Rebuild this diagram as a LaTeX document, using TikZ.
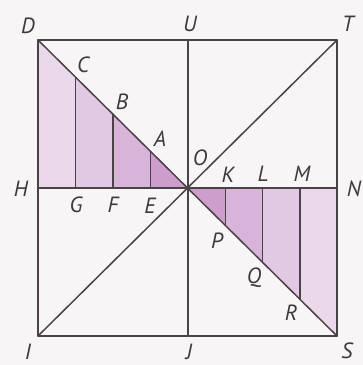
\documentclass[tikz,border=0pt]{standalone}
\usepackage{fontspec}
\setmainfont{PT Sans}
\usetikzlibrary{calc}
\definecolor{ln}{HTML}{4A4246}
\definecolor{bg}{HTML}{F7F5F6}
\definecolor{s1}{HTML}{E9D9EB}
\definecolor{s2}{HTML}{E2C9E3}
\definecolor{s3}{HTML}{D9B4D9}
\definecolor{s4}{HTML}{CD9DCC}
\tikzset{
  geo/.style={draw=ln, line width=1.5pt, line cap=round, line join=round},
  lbl/.style={font=\fontsize{22}{22}\selectfont\itshape, text=ln!85!black, inner sep=0pt},
}
\begin{document}
\begin{tikzpicture}[x=1pt,y=-1pt]
\fill[bg] (0,0) rectangle (363,365);
\useasboundingbox (0,0) rectangle (363,365);
% corner and mid points
\coordinate (D) at (38,40);
\coordinate (U) at (188,40);
\coordinate (T) at (337,40);
\coordinate (H) at (38,188);
\coordinate (O) at (188,188);
\coordinate (N) at (337,188);
\coordinate (I) at (38,336);
\coordinate (J) at (188,336);
\coordinate (S) at (337,336);
% left subdivisions
\coordinate (C) at ($(D)!0.25!(O)$);
\coordinate (B) at ($(D)!0.5!(O)$);
\coordinate (A) at ($(D)!0.75!(O)$);
\coordinate (G) at ($(H)!0.25!(O)$);
\coordinate (F) at ($(H)!0.5!(O)$);
\coordinate (E) at ($(H)!0.75!(O)$);
% right subdivisions
\coordinate (K) at ($(O)!0.25!(N)$);
\coordinate (L) at ($(O)!0.5!(N)$);
\coordinate (M) at ($(O)!0.75!(N)$);
\coordinate (P) at ($(O)!0.25!(S)$);
\coordinate (Q) at ($(O)!0.5!(S)$);
\coordinate (R) at ($(O)!0.75!(S)$);
% shaded strips
\fill[s1] (H) -- (D) -- (C) -- (G) -- cycle;
\fill[s2] (G) -- (C) -- (B) -- (F) -- cycle;
\fill[s3] (F) -- (B) -- (A) -- (E) -- cycle;
\fill[s4] (E) -- (A) -- (O) -- cycle;
\fill[s4] (O) -- (K) -- (P) -- cycle;
\fill[s3] (K) -- (L) -- (Q) -- (P) -- cycle;
\fill[s2] (L) -- (M) -- (R) -- (Q) -- cycle;
\fill[s1] (M) -- (N) -- (S) -- (R) -- cycle;
% lines
\draw[geo] (D) -- (T) -- (S) -- (I) -- cycle;
\draw[geo] (H) -- (N);
\draw[geo] (U) -- (J);
\draw[geo] (D) -- (S);
\draw[geo] (I) -- (T);
\draw[geo] (C) -- (G);
\draw[geo] (B) -- (F);
\draw[geo] (A) -- (E);
\draw[geo] (K) -- (P);
\draw[geo] (L) -- (Q);
\draw[geo] (M) -- (R);
\fill[ln] (O) circle (2pt);
% labels
\node[lbl] (lD) at (28,26) {D};
\node[lbl] (lU) at (190,24) {U};
\node[lbl] (lT) at (348,24) {T};
\node[lbl] (lC) at (83,65) {C};
\node[lbl] (lB) at (122,102) {B};
\node[lbl] (lA) at (160,139) {A};
\node[lbl] (lO) at (200,158) {O};
\node[lbl] (lK) at (228,175) {K};
\node[lbl] (lL) at (263,174) {L};
\node[lbl] (lM) at (302,174) {M};
\node[lbl] (lN) at (354,189) {N};
\node[lbl] (lH) at (21,189) {H};
\node[lbl] (lG) at (76,205) {G};
\node[lbl] (lF) at (113,205) {F};
\node[lbl] (lE) at (150,206) {E};
\node[lbl] (lI) at (28,352) {I};
\node[lbl] (lJ) at (189,352) {J};
\node[lbl] (lS) at (347,351) {S};
\node[lbl] (lP) at (217,241) {P};
\node[lbl] (lQ) at (254,278) {Q};
\node[lbl] (lR) at (291,313) {R};
\end{tikzpicture}
\end{document}
